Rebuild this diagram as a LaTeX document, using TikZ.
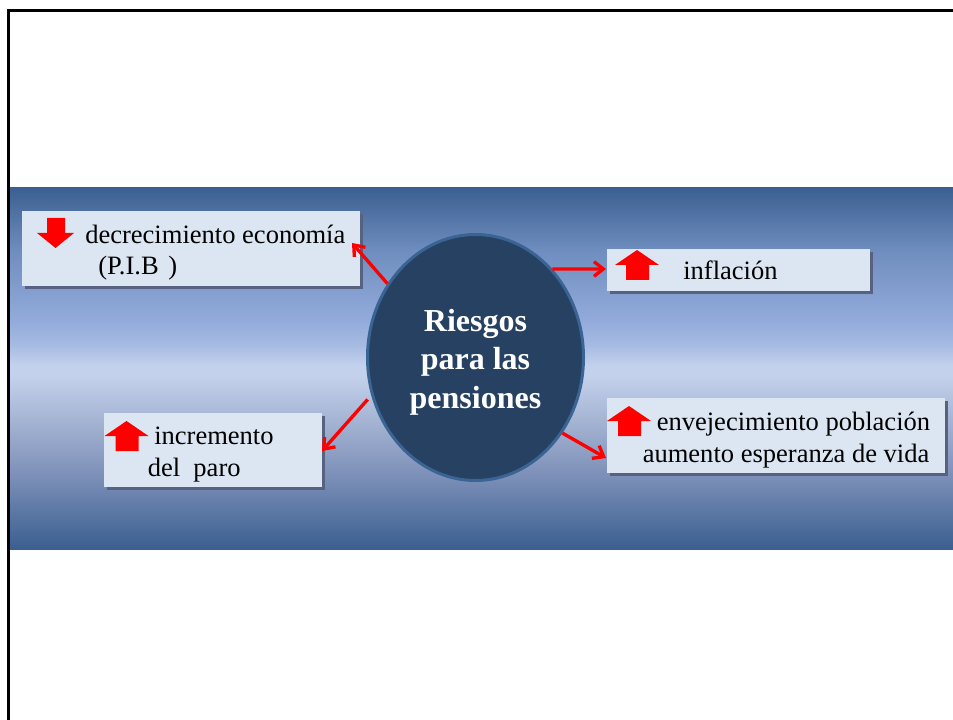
\documentclass[tikz,border=0pt]{standalone}
\usepackage{fontspec}
\setmainfont{Liberation Serif}
\usetikzlibrary{shapes.geometric,shadows,arrows.meta}

\definecolor{bandedge}{HTML}{3A5F90}
\definecolor{bandupper}{HTML}{6F8DBF}
\definecolor{bandmid}{HTML}{92ABDB}
\definecolor{bandfair}{HTML}{A6BBE3}
\definecolor{bandlight}{HTML}{C3D1EC}
\definecolor{bandpale}{HTML}{A5B4D3}
\definecolor{bandlow}{HTML}{8193BB}
\definecolor{boxfill}{HTML}{DCE6F2}
\definecolor{boxshadow}{HTML}{56627F}
\definecolor{bubblefill}{HTML}{264161}
\definecolor{bubbleedge}{HTML}{3A6494}

\pgfdeclareverticalshading{bandshade}{100bp}{
  color(0bp)=(bandedge); color(25bp)=(bandedge); color(35.9bp)=(bandlow);
  color(42.8bp)=(bandpale); color(49bp)=(bandlight); color(50.4bp)=(bandlight);
  color(53.2bp)=(bandfair); color(56.6bp)=(bandmid); color(66.3bp)=(bandupper);
  color(75bp)=(bandedge); color(100bp)=(bandedge)}

\tikzset{
  riskbox/.style={rectangle, fill=boxfill, anchor=north west, inner sep=0pt,
    drop shadow={shadow xshift=2.25pt, shadow yshift=-2.25pt, fill=boxshadow, opacity=1}},
  risktext/.style={anchor=base west, inner sep=0pt, font=\fontsize{19.9}{24}\selectfont},
  riskarrow/.style={draw=red, line width=2.5pt, -{Straight Barb[length=7pt,width=11pt]}},
  updown/.style={fill=red}
}

\begin{document}
\begin{tikzpicture}[x=0.75pt, y=-0.75pt]
  \useasboundingbox (0, 0) rectangle (953, 720);

  \draw[line width=2.25pt] (953, 10.5) -- (8.5, 10.5) -- (8.5, 720);
  \shade[shading=bandshade] (10, 187.5) rectangle (953, 549);

  \node[riskbox, minimum width=253.5pt, minimum height=56.25pt] (decrecimiento) at (22, 211) {};
  \node[riskbox, minimum width=197.25pt, minimum height=31.5pt] (inflacion) at (607, 249) {};
  \node[riskbox, minimum width=163.5pt, minimum height=55.5pt] (incremento) at (104, 413) {};
  \node[riskbox, minimum width=253.5pt, minimum height=56.25pt] (envejecimiento) at (607, 398) {};

  \node[ellipse, draw=bubbleedge, fill=bubblefill, line width=2.25pt, inner sep=0pt,
    minimum width=162pt, minimum height=184.5pt] (riesgos) at (475.5, 357.5) {};
  \node[text=white, align=center, inner sep=0pt, font=\fontsize{24}{29}\selectfont\bfseries]
    (riesgostext) at (475.5, 362) {Riesgos\\para las\\pensiones};

  \node[risktext] (dectext) at (85, 243.5) {decrecimiento economía};
  \node[risktext] (pibtext) at (98, 275) {(P.I.B\hspace{7.25pt})};
  \node[risktext] (inftext) at (683, 279.5) {inflación};
  \node[risktext] (inctext) at (154, 444.5) {incremento};
  \node[risktext] (partext) at (147.5, 476.5) {del\ \ paro};
  \node[risktext] (envtext) at (656.5, 430) {envejecimiento población};
  \node[risktext] (esptext) at (642.5, 462) {aumento esperanza de vida};

  \fill[updown] (37, 233) -- (47, 233) -- (47, 218) -- (65, 218) -- (65, 233) -- (74, 233) -- (55.5, 248) -- cycle;
  \foreach \x/\y in {637/250, 126.5/421, 629/406}
    \fill[updown] (\x, \y) -- (\x + 22, \y + 15) -- (\x + 12, \y + 15) -- (\x + 12, \y + 30)
      -- (\x - 11, \y + 30) -- (\x - 11, \y + 15) -- (\x - 22, \y + 15) -- cycle;

  \coordinate (dectip) at (352, 243);
  \coordinate (inftip) at (606, 269);
  \coordinate (inctip) at (322, 451);
  \coordinate (envtip) at (606, 458);
  \draw[riskarrow] (riesgos.140) -- (dectip);
  \draw[riskarrow] (riesgos.49.6) -- (inftip);
  \draw[riskarrow, shorten <=4pt] (riesgos.200) -- (inctip);
  \draw[riskarrow] (riesgos.-41) -- (envtip);
\end{tikzpicture}
\end{document}
